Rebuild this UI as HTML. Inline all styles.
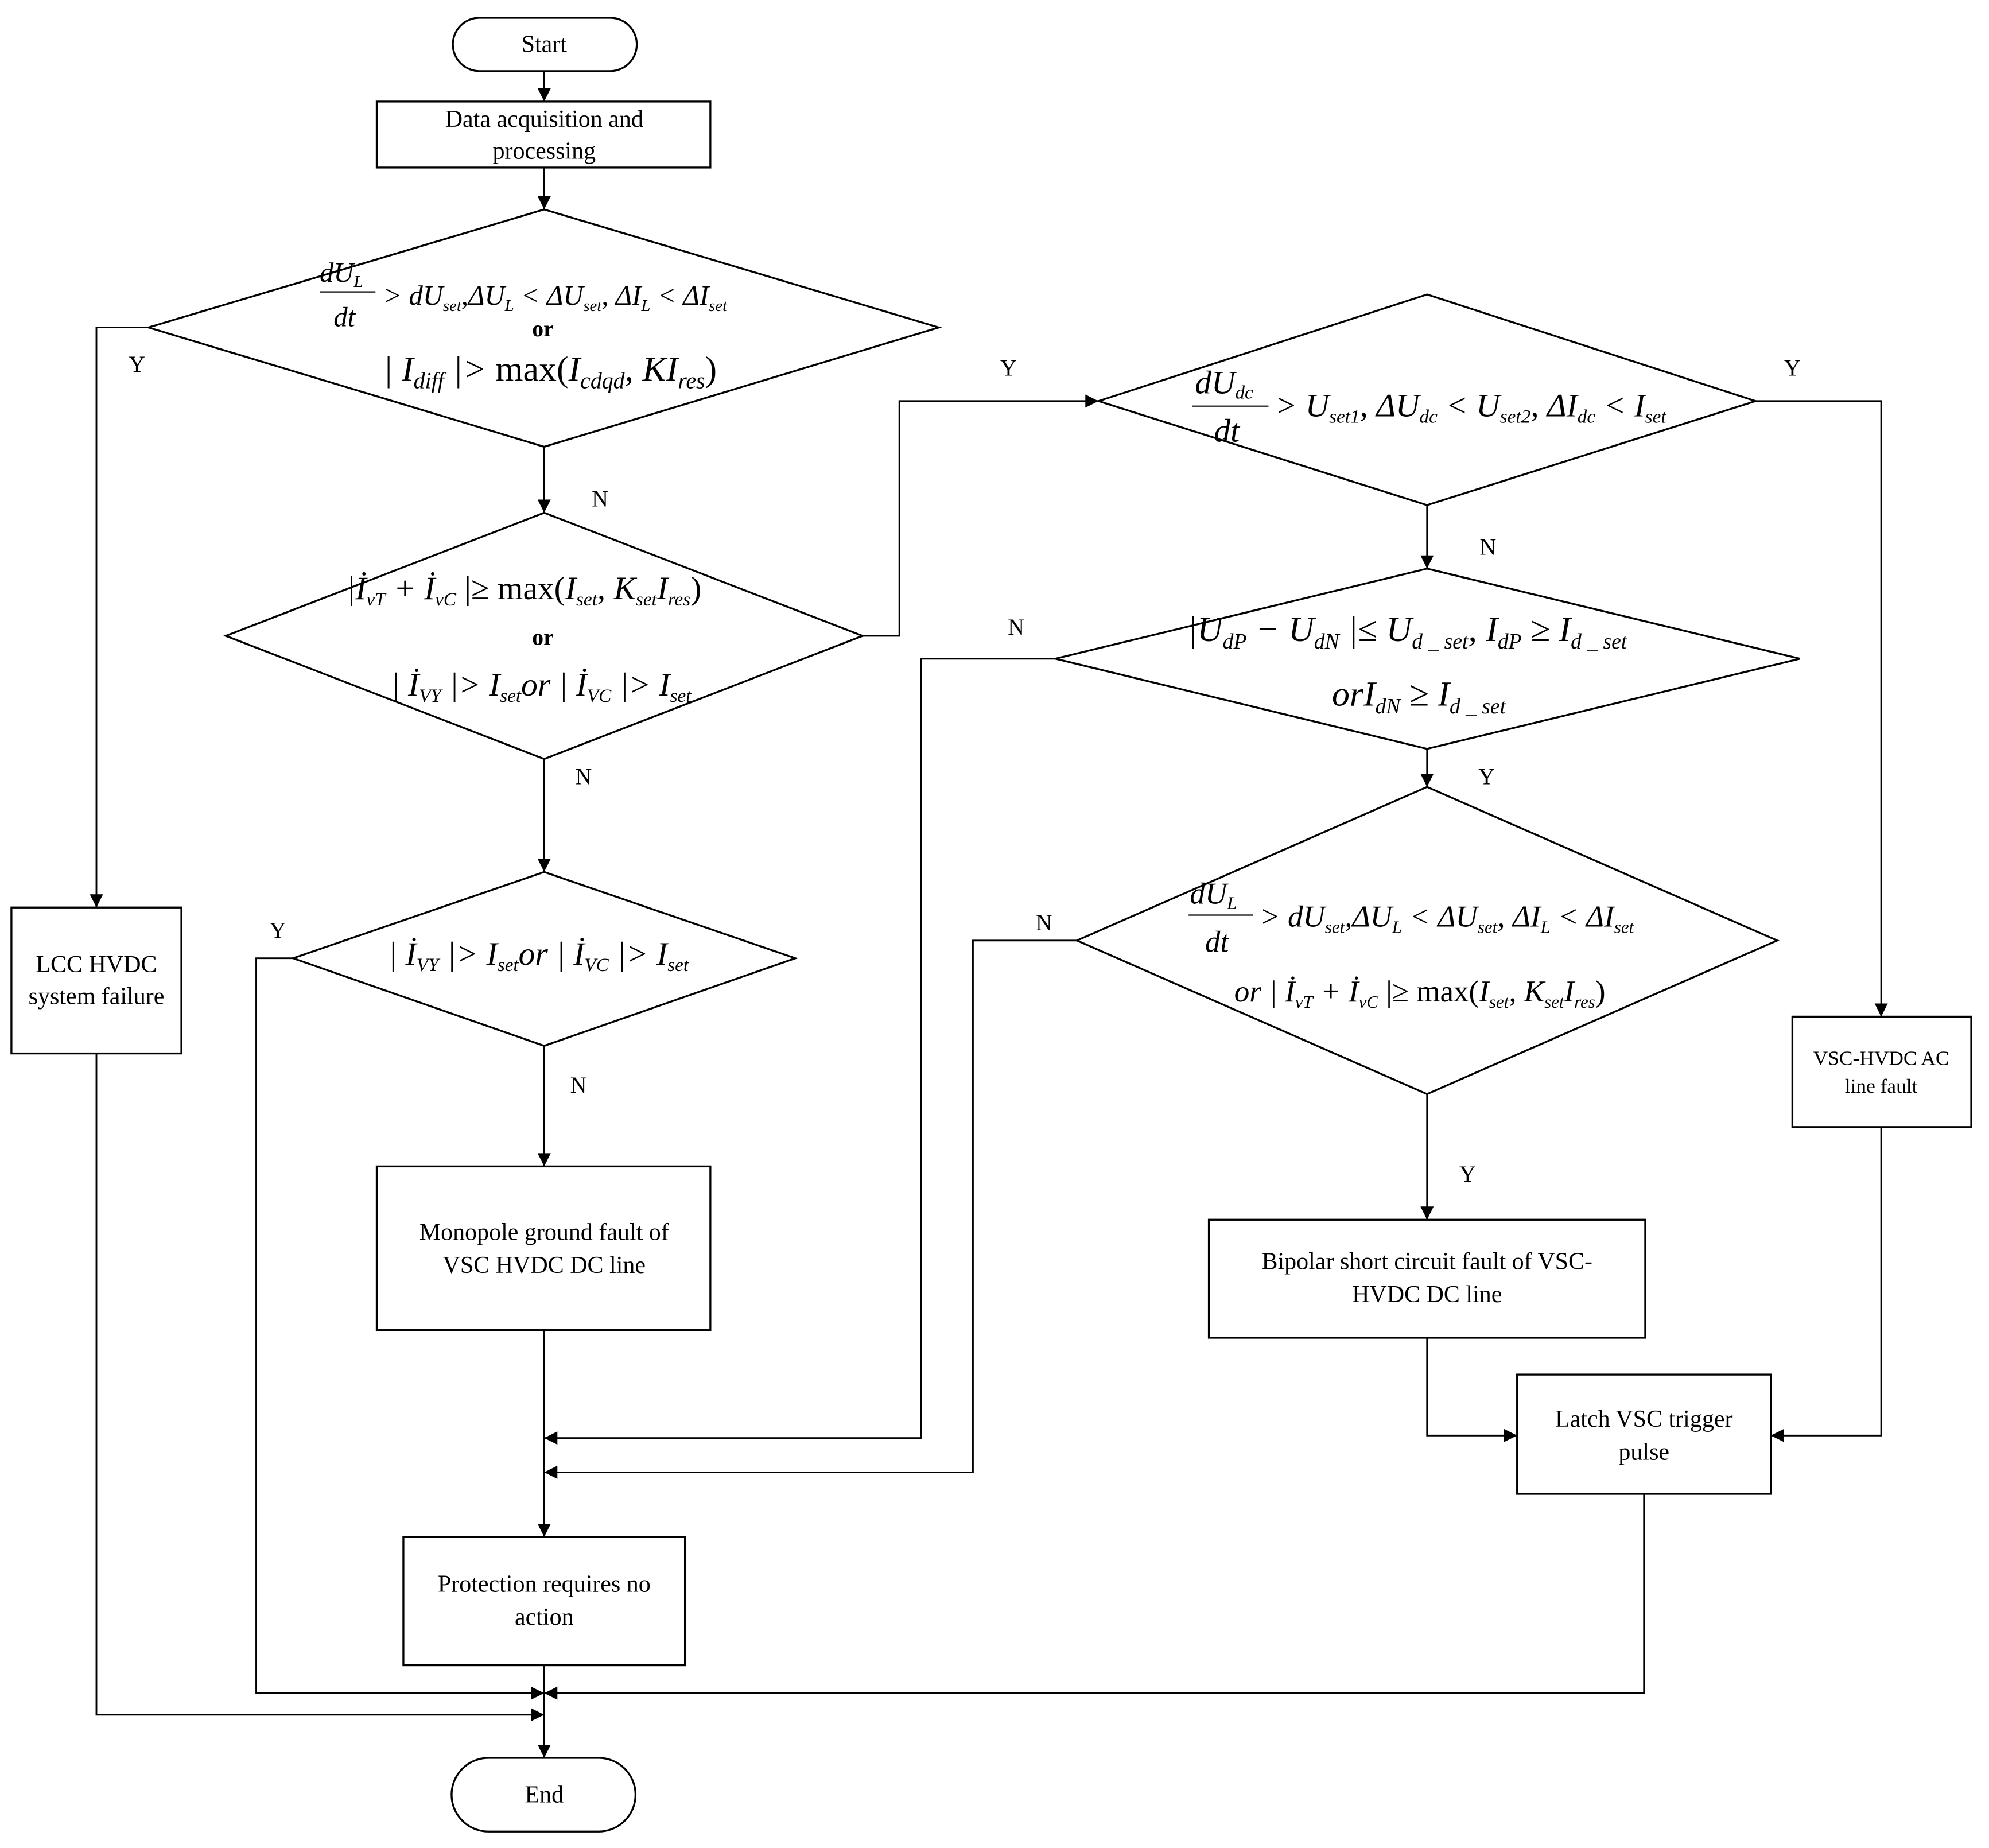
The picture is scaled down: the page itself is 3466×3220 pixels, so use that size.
<!DOCTYPE html>
<html><head><meta charset="utf-8"><style>html,body{margin:0;padding:0;background:#fff}svg{display:block}</style></head>
<body>
<svg width="3466" height="3220" viewBox="0 0 1568 1456" preserveAspectRatio="none" xmlns="http://www.w3.org/2000/svg" font-family="Liberation Serif, serif">
<defs><marker id="a" viewBox="0 0 10 10" refX="10" refY="5" markerWidth="9" markerHeight="8" orient="auto"><path d="M0,0L10,5L0,10z" fill="#000"/></marker></defs>
<g fill="none" stroke="#000" stroke-width="1.5">
<rect x="357" y="14" width="145" height="42" rx="21"/>
<rect x="297" y="80" width="263" height="52"/>
<polygon points="429,165 740,258 429,352 117,258"/>
<polygon points="429,404 680,501 429,598 178,501"/>
<polygon points="429,687 627,755 429,824 231,755"/>
<rect x="297" y="919" width="263" height="129"/>
<rect x="318" y="1211" width="222" height="101"/>
<rect x="356" y="1385" width="145" height="58" rx="29"/>
<rect x="9" y="715" width="134" height="115"/>
<polygon points="1125,232 1384,316 1125,398 866,316"/>
<polygon points="1125,448 1419,519 1125,590 832,519"/>
<polygon points="1125,620 1401,741 1125,862 849,741"/>
<rect x="953" y="961" width="344" height="93"/>
<rect x="1196" y="1083" width="200" height="94"/>
<rect x="1413" y="801" width="141" height="87"/>
</g>
<g fill="none" stroke="#000" stroke-width="1.3" marker-end="url(#a)">
<path d="M429,56V80"/>
<path d="M429,132V165"/>
<path d="M117,258H76V715"/>
<path d="M429,352V404"/>
<path d="M680,501H709V316H866"/>
<path d="M429,598V687"/>
<path d="M231,755H202V1334H429"/>
<path d="M429,824V919"/>
<path d="M429,1048V1211"/>
<path d="M429,1312V1385"/>
<path d="M76,830V1351H429"/>
<path d="M1384,316H1483V801"/>
<path d="M1125,398V448"/>
<path d="M832,519H726V1133H429"/>
<path d="M1125,590V620"/>
<path d="M849,741H767V1160H429"/>
<path d="M1125,862V961"/>
<path d="M1125,1054V1131H1196"/>
<path d="M1296,1177V1334H429"/>
<path d="M1483,888V1131H1396"/>
</g>
<g font-size="19" text-anchor="middle" fill="#000">
<text x="429" y="41">Start</text>
<text x="429" y="100">Data acquisition and</text>
<text x="429" y="125">processing</text>
<text x="429" y="977">Monopole ground fault of</text>
<text x="429" y="1003">VSC HVDC DC line</text>
<text x="429" y="1254">Protection requires no</text>
<text x="429" y="1280">action</text>
<text x="429" y="1420">End</text>
<text x="76" y="766">LCC HVDC</text>
<text x="76" y="791">system failure</text>
<text x="1125" y="1000">Bipolar short circuit fault of VSC-</text>
<text x="1125" y="1026">HVDC DC line</text>
<text x="1296" y="1124">Latch VSC trigger</text>
<text x="1296" y="1150">pulse</text>
<text x="1483" y="839" font-size="16">VSC-HVDC AC</text>
<text x="1483" y="861" font-size="16">line fault</text>
<text x="108" y="293" font-size="18">Y</text>
<text x="473" y="399" font-size="18">N</text>
<text x="795" y="296" font-size="18">Y</text>
<text x="460" y="618" font-size="18">N</text>
<text x="219" y="739" font-size="18">Y</text>
<text x="456" y="861" font-size="18">N</text>
<text x="1413" y="296" font-size="18">Y</text>
<text x="1173" y="437" font-size="18">N</text>
<text x="801" y="500" font-size="18">N</text>
<text x="1172" y="618" font-size="18">Y</text>
<text x="823" y="733" font-size="18">N</text>
<text x="1157" y="931" font-size="18">Y</text>
</g>
<g fill="#000" font-style="italic">
<text x="252" y="222" font-size="22">dU<tspan font-size="13" dy="4">L</tspan></text>
<line x1="252" y1="230" x2="296" y2="230" stroke="#000"/>
<text x="263" y="257" font-size="22">dt</text>
<text x="302" y="240" font-size="22">&gt; dU<tspan font-size="13" dy="5">set</tspan><tspan dy="-5">,ΔU</tspan><tspan font-size="13" dy="5">L</tspan><tspan dy="-5"> &lt; ΔU</tspan><tspan font-size="13" dy="5">set</tspan><tspan dy="-5">,   ΔI</tspan><tspan font-size="13" dy="5">L</tspan><tspan dy="-5"> &lt; ΔI</tspan><tspan font-size="13" dy="5">set</tspan></text>
<text x="428" y="265" font-size="18" font-weight="bold" font-style="normal" text-anchor="middle">or</text>
<text x="302" y="300" font-size="28">| I<tspan font-size="18" dy="6">diff</tspan><tspan dy="-6"> |&gt; </tspan><tspan font-style="normal">max(</tspan>I<tspan font-size="18" dy="6">cdqd</tspan><tspan dy="-6">, KI</tspan><tspan font-size="18" dy="6">res</tspan><tspan dy="-6" font-style="normal">)</tspan></text>
<text x="273" y="472" font-size="26">|İ<tspan font-size="15" dy="5">vT</tspan><tspan dy="-5"> + İ</tspan><tspan font-size="15" dy="5">vC</tspan><tspan dy="-5" font-style="normal"> |≥ max(</tspan>I<tspan font-size="15" dy="5">set</tspan><tspan dy="-5">, K</tspan><tspan font-size="15" dy="5">set</tspan><tspan dy="-5">I</tspan><tspan font-size="15" dy="5">res</tspan><tspan dy="-5" font-style="normal">)</tspan></text>
<text x="428" y="508" font-size="18" font-weight="bold" font-style="normal" text-anchor="middle">or</text>
<text x="308" y="548" font-size="26">| İ<tspan font-size="15" dy="5">VY</tspan><tspan dy="-5"> |&gt; I</tspan><tspan font-size="15" dy="5">set</tspan><tspan dy="-5">or | İ</tspan><tspan font-size="15" dy="5">VC</tspan><tspan dy="-5"> |&gt; I</tspan><tspan font-size="15" dy="5">set</tspan></text>
<text x="306" y="760" font-size="26">| İ<tspan font-size="15" dy="5">VY</tspan><tspan dy="-5"> |&gt; I</tspan><tspan font-size="15" dy="5">set</tspan><tspan dy="-5">or | İ</tspan><tspan font-size="15" dy="5">VC</tspan><tspan dy="-5"> |&gt; I</tspan><tspan font-size="15" dy="5">set</tspan></text>
<text x="942" y="310" font-size="26">dU<tspan font-size="15" dy="4">dc</tspan></text>
<line x1="940" y1="320" x2="1000" y2="320" stroke="#000"/>
<text x="957" y="348" font-size="26">dt</text>
<text x="1005" y="328" font-size="26">&gt; U<tspan font-size="15" dy="5">set1</tspan><tspan dy="-5">, ΔU</tspan><tspan font-size="15" dy="5">dc</tspan><tspan dy="-5"> &lt; U</tspan><tspan font-size="15" dy="5">set2</tspan><tspan dy="-5">, ΔI</tspan><tspan font-size="15" dy="5">dc</tspan><tspan dy="-5"> &lt; I</tspan><tspan font-size="15" dy="5">set</tspan></text>
<text x="936" y="505" font-size="28">|U<tspan font-size="17" dy="6">dP</tspan><tspan dy="-6"> − U</tspan><tspan font-size="17" dy="6">dN</tspan><tspan dy="-6"> |≤ U</tspan><tspan font-size="17" dy="6">d _ set</tspan><tspan dy="-6">, I</tspan><tspan font-size="17" dy="6">dP</tspan><tspan dy="-6"> ≥ I</tspan><tspan font-size="17" dy="6">d _ set</tspan></text>
<text x="1050" y="556" font-size="28">orI<tspan font-size="17" dy="6">dN</tspan><tspan dy="-6"> ≥ I</tspan><tspan font-size="17" dy="6">d _ set</tspan></text>
<text x="938" y="712" font-size="24">dU<tspan font-size="14" dy="4">L</tspan></text>
<line x1="937" y1="721" x2="988" y2="721" stroke="#000"/>
<text x="950" y="750" font-size="24">dt</text>
<text x="993" y="730" font-size="24">&gt; dU<tspan font-size="14" dy="5">set</tspan><tspan dy="-5">,ΔU</tspan><tspan font-size="14" dy="5">L</tspan><tspan dy="-5"> &lt; ΔU</tspan><tspan font-size="14" dy="5">set</tspan><tspan dy="-5">,   ΔI</tspan><tspan font-size="14" dy="5">L</tspan><tspan dy="-5"> &lt; ΔI</tspan><tspan font-size="14" dy="5">set</tspan></text>
<text x="973" y="789" font-size="24">or | İ<tspan font-size="14" dy="5">vT</tspan><tspan dy="-5"> + İ</tspan><tspan font-size="14" dy="5">vC</tspan><tspan dy="-5" font-style="normal"> |≥ max(</tspan>I<tspan font-size="14" dy="5">set</tspan><tspan dy="-5">, K</tspan><tspan font-size="14" dy="5">set</tspan><tspan dy="-5">I</tspan><tspan font-size="14" dy="5">res</tspan><tspan dy="-5" font-style="normal">)</tspan></text>
</g>
</svg>
</body></html>
